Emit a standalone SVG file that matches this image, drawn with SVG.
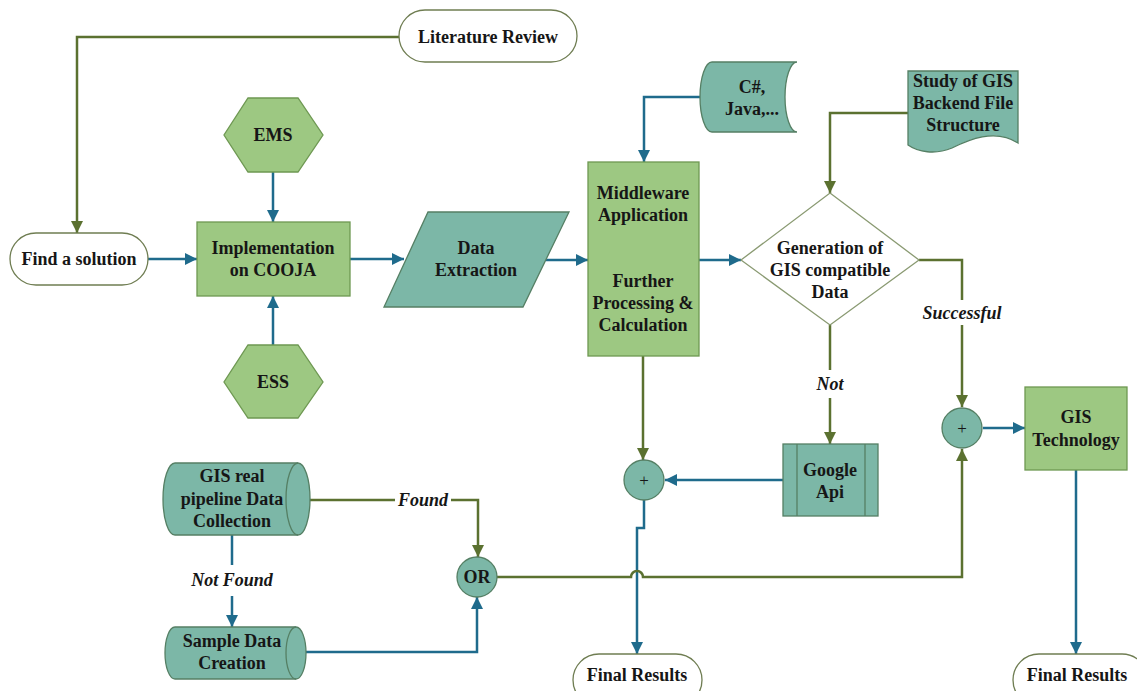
<svg xmlns="http://www.w3.org/2000/svg" width="1137" height="691" viewBox="0 0 1137 691">
<style>
text{font-family:"Liberation Serif","Times New Roman",serif;font-weight:bold;font-size:18px;fill:#161616;text-anchor:middle}
.it{font-style:italic}
.term{fill:#fff;stroke:#6f7d52;stroke-width:1.3}
.gbox{fill:#9dc882;stroke:#6e9852;stroke-width:1.3}
.tbox{fill:#7cb7a7;stroke:#557f64;stroke-width:1.3}
.diam{fill:#fff;stroke:#8a9a72;stroke-width:1.3}
.g{fill:none;stroke:#5b7130;stroke-width:2.5}
.b{fill:none;stroke:#1f6b8c;stroke-width:2.5}
.plus{font-weight:normal;font-size:17px}
</style>
<defs>
<marker id="ag" markerUnits="userSpaceOnUse" markerWidth="14" markerHeight="14" refX="12" refY="7" orient="auto"><path d="M0,1 L12,7 L0,13 Z" fill="#5b7130"/></marker>
<marker id="ab" markerUnits="userSpaceOnUse" markerWidth="14" markerHeight="14" refX="12" refY="7" orient="auto"><path d="M0,1 L12,7 L0,13 Z" fill="#1f6b8c"/></marker>
</defs>
<rect width="1137" height="691" fill="#fff"/>
<g id="connectors">
<path class="g" d="M399,37 H77 V233" marker-end="url(#ag)"/>
<path class="b" d="M148,259 H197" marker-end="url(#ab)"/>
<path class="b" d="M273,172 V222" marker-end="url(#ab)"/>
<path class="b" d="M273,345 V296" marker-end="url(#ab)"/>
<path class="b" d="M350,259 H404" marker-end="url(#ab)"/>
<path class="b" d="M546,260 H588" marker-end="url(#ab)"/>
<path class="b" d="M588,260 H741" marker-end="url(#ab)"/>
<path class="b" d="M701,97 H644 V162" marker-end="url(#ab)"/>
<path class="g" d="M908,113 H830 V193" marker-end="url(#ag)"/>
<path class="g" d="M919,260 H962 V300"/>
<path class="g" d="M962,325 V407" marker-end="url(#ag)"/>
<path class="b" d="M983,428 H1025" marker-end="url(#ab)"/>
<path class="b" d="M1076,470 V654" marker-end="url(#ab)"/>
<path class="g" d="M830,325 V370"/>
<path class="g" d="M830,398 V444" marker-end="url(#ag)"/>
<path class="b" d="M783,480 H665" marker-end="url(#ab)"/>
<path class="g" d="M643,356 V460" marker-end="url(#ag)"/>
<path class="b" d="M644,500 V528 H637 V654" marker-end="url(#ab)"/>
<path class="g" d="M310,500 H395"/>
<path class="g" d="M451,500 H478 V557" marker-end="url(#ag)"/>
<path class="b" d="M232,535 V565"/>
<path class="b" d="M232,596 V627" marker-end="url(#ab)"/>
<path class="b" d="M306,652 H477 V597" marker-end="url(#ab)"/>
<path class="g" d="M497,577 H631 A6,6 0 0 1 643,577 H962 V449" marker-end="url(#ag)"/>
<text class="it" x="962" y="319">Successful</text>
<text class="it" x="830" y="390">Not</text>
<text class="it" x="423" y="506">Found</text>
<text class="it" x="232" y="586">Not Found</text>
</g>
<g id="literature-review">
<rect class="term" x="399" y="10" width="178" height="52" rx="26"/>
<text x="488" y="43">Literature Review</text>
</g>
<g id="find-solution">
<rect class="term" x="10" y="233" width="138" height="52" rx="26"/>
<text x="79" y="265">Find a solution</text>
</g>
<g id="ems">
<polygon class="gbox" points="248,98 298,98 323,135 298,172 248,172 224,135"/>
<text x="273" y="141">EMS</text>
</g>
<g id="ess">
<polygon class="gbox" points="248,345 298,345 323,382 298,418 248,418 224,382"/>
<text x="273" y="388">ESS</text>
</g>
<g id="implementation">
<rect class="gbox" x="197" y="222" width="153" height="74"/>
<text x="273" y="254">Implementation</text>
<text x="273" y="276">on COOJA</text>
</g>
<g id="data-extraction">
<polygon class="tbox" points="428,212 569,212 523,307 384,307"/>
<text x="476" y="254">Data</text>
<text x="476" y="276">Extraction</text>
</g>
<g id="middleware">
<rect class="gbox" x="588" y="162" width="111" height="194"/>
<text x="643" y="199">Middleware</text>
<text x="643" y="221">Application</text>
<text x="643" y="287">Further</text>
<text x="643" y="309">Processing &amp;</text>
<text x="643" y="331">Calculation</text>
</g>
<g id="languages">
<path class="tbox" d="M712,62 H797 A12,35 0 0 0 797,132 H712 A12,35 0 0 1 712,62 Z"/>
<text x="752" y="93">C#,</text>
<text x="752" y="115">Java,...</text>
</g>
<g id="study-gis">
<path class="tbox" d="M908,71 H1018 V143 C995,128 968,140 952,148 C935,155 918,152 908,145 Z"/>
<text x="963" y="87">Study of GIS</text>
<text x="963" y="109">Backend File</text>
<text x="963" y="131">Structure</text>
</g>
<g id="generation">
<polygon class="diam" points="830,193 919,260 830,325 741,260"/>
<text x="830" y="254">Generation of</text>
<text x="830" y="276">GIS compatible</text>
<text x="830" y="298">Data</text>
</g>
<g id="google-api">
<rect class="tbox" x="783" y="444" width="95" height="72"/>
<line x1="797" y1="444" x2="797" y2="516" stroke="#557f64" stroke-width="1.3"/>
<line x1="865" y1="444" x2="865" y2="516" stroke="#557f64" stroke-width="1.3"/>
<text x="830" y="476">Google</text>
<text x="830" y="498">Api</text>
</g>
<g id="plus-mid">
<circle class="tbox" cx="644" cy="480" r="20"/>
<text class="plus" x="644" y="486">+</text>
</g>
<g id="plus-right">
<circle class="tbox" cx="962" cy="428" r="20"/>
<text class="plus" x="962" y="434">+</text>
</g>
<g id="gis-technology">
<rect class="gbox" x="1025" y="387" width="102" height="83"/>
<text x="1076" y="423">GIS</text>
<text x="1076" y="446">Technology</text>
</g>
<g id="final-results-mid">
<rect class="term" x="573" y="654" width="129" height="52" rx="26"/>
<text x="637" y="681">Final Results</text>
</g>
<g id="final-results-right">
<rect class="term" x="1013" y="654" width="135" height="52" rx="26"/>
<text x="1077" y="681">Final Results</text>
</g>
<g id="gis-real-data">
<path class="tbox" d="M175,463 H298 A12,36 0 0 1 298,535 H175 A12,36 0 0 1 175,463 Z"/>
<path d="M298,463 A12,36 0 0 0 298,535" fill="none" stroke="#557f64" stroke-width="1.3"/>
<text x="232" y="482">GIS real</text>
<text x="232" y="505">pipeline Data</text>
<text x="232" y="527">Collection</text>
</g>
<g id="sample-data">
<path class="tbox" d="M175,627 H296 A10,26 0 0 1 296,679 H175 A10,26 0 0 1 175,627 Z"/>
<path d="M296,627 A10,26 0 0 0 296,679" fill="none" stroke="#557f64" stroke-width="1.3"/>
<text x="232" y="647">Sample Data</text>
<text x="232" y="669">Creation</text>
</g>
<g id="or">
<circle class="tbox" cx="477" cy="577" r="20"/>
<text x="477" y="583">OR</text>
</g>
</svg>
